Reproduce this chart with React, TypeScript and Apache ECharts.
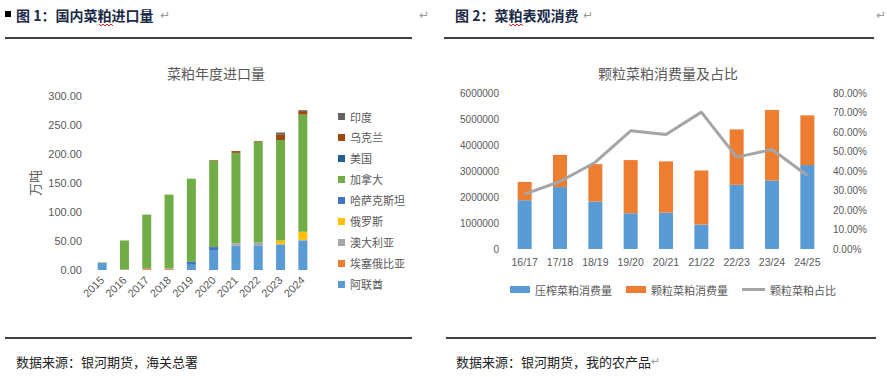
import React, { useEffect, useRef } from "react";
import * as echarts from "echarts";

// ---- Figure 1: annual rapeseed meal imports (万吨) ----
const years = ["2015", "2016", "2017", "2018", "2019", "2020", "2021", "2022", "2023", "2024"];
const uae = [12, 0, 0, 0, 9, 34.5, 42, 42.5, 44, 51];
const ethiopia = [0, 0, 1.5, 1.5, 0, 0, 0, 0, 0, 0];
const australia = [0, 1, 2, 1.5, 0, 0, 4, 5, 1, 1];
const russia = [0, 0, 0, 0, 0, 0, 0, 0, 6, 14];
const kazakhstan = [0, 0, 0, 0, 5, 5, 0, 0, 0, 0];
const canada = [1, 50, 92, 127, 143.5, 149, 156, 174, 173, 202];
const usa = [0, 0, 0, 0, 0, 0, 0, 0, 0, 0];
const ukraine = [0, 0, 0, 0, 0, 1, 3, 1, 10, 6];
const india = [0, 0, 0, 0, 0, 0, 0, 0, 3, 1.5];

// ---- Figure 2: rapeseed meal consumption ----
const seasons = ["16/17", "17/18", "18/19", "19/20", "20/21", "21/22", "22/23", "23/24", "24/25"];
const pressedMeal = [1877000, 2380000, 1825000, 1375000, 1400000, 940000, 2470000, 2635000, 3226000];
const pelletMeal = [703000, 1240000, 1440000, 2045000, 1970000, 2080000, 2130000, 2715000, 1914000];
const pelletShare = [0.281, 0.346, 0.445, 0.606, 0.587, 0.702, 0.471, 0.51, 0.377];

const leftSeries = [
  { name: "阿联酋", data: uae, color: "#5B9BD5" },
  { name: "埃塞俄比亚", data: ethiopia, color: "#ED7D31" },
  { name: "澳大利亚", data: australia, color: "#A5A5A5" },
  { name: "俄罗斯", data: russia, color: "#FFC000" },
  { name: "哈萨克斯坦", data: kazakhstan, color: "#4472C4" },
  { name: "加拿大", data: canada, color: "#70AD47" },
  { name: "美国", data: usa, color: "#255E91" },
  { name: "乌克兰", data: ukraine, color: "#9E480E" },
  { name: "印度", data: india, color: "#636363" },
];

const FONT = '"Liberation Sans", "Noto Sans CJK SC", sans-serif';
const CJK = '"Noto Sans CJK SC", sans-serif';
const AXIS_GREY = "#595959";
const HEAD = "#1B2A47";

function squiggle(x0: number, y: number, w: number) {
  const pts: number[][] = [];
  for (let i = 0; i <= Math.round(w / 2); i++) {
    pts.push([x0 + i * 2, y + (i % 2 === 0 ? 0 : 2)]);
  }
  return pts;
}

const legendText = { fontSize: 11, color: AXIS_GREY, fontFamily: CJK };

export default function App() {
  const ref = useRef<HTMLDivElement>(null);
  useEffect(() => {
    if (!ref.current) return;
    const chart = echarts.init(ref.current, undefined, { renderer: "svg" });
    const option: any = {
      animation: false,
      textStyle: { fontFamily: FONT },
      title: [
        {
          text: "菜粕年度进口量",
          left: 211,
          top: 61,
          textAlign: "center",
          textStyle: { fontSize: 14, fontWeight: "normal", color: AXIS_GREY, fontFamily: CJK },
        },
        {
          text: "颗粒菜粕消费量及占比",
          left: 663,
          top: 61,
          textAlign: "center",
          textStyle: { fontSize: 14, fontWeight: "normal", color: AXIS_GREY, fontFamily: CJK },
        },
      ],
      legend: [
        {
          orient: "vertical",
          left: 333,
          top: 106,
          itemWidth: 7,
          itemHeight: 7,
          itemGap: 10,
          icon: "rect",
          textStyle: legendText,
          data: leftSeries.map((s) => s.name).reverse(),
        },
        {
          left: 505,
          top: 279,
          itemWidth: 20,
          itemHeight: 7,
          icon: "rect",
          textStyle: legendText,
          data: ["压榨菜粕消费量"],
        },
        {
          left: 621,
          top: 279,
          itemWidth: 20,
          itemHeight: 7,
          icon: "rect",
          textStyle: legendText,
          data: ["颗粒菜粕消费量"],
        },
        {
          left: 737,
          top: 279,
          itemWidth: 23,
          itemHeight: 3,
          icon: "rect",
          textStyle: legendText,
          data: ["颗粒菜粕占比"],
        },
      ],
      grid: [
        { left: 91, width: 223, top: 96, height: 174 },
        { left: 507, width: 318, top: 93, height: 156 },
      ],
      xAxis: [
        {
          type: "category",
          gridIndex: 0,
          data: years,
          axisLine: { show: false },
          axisTick: { show: false },
          axisLabel: { rotate: 45, interval: 0, fontSize: 11, color: AXIS_GREY, margin: 8 },
        },
        {
          type: "category",
          gridIndex: 1,
          data: seasons,
          axisLine: { show: false },
          axisTick: { show: false },
          axisLabel: { interval: 0, fontSize: 10.5, color: AXIS_GREY, margin: 8 },
        },
      ],
      yAxis: [
        {
          type: "value",
          gridIndex: 0,
          min: 0,
          max: 300,
          interval: 50,
          name: "万吨",
          nameLocation: "middle",
          nameGap: 50,
          nameTextStyle: { fontSize: 13, color: AXIS_GREY, fontFamily: CJK },
          splitLine: { show: false },
          axisLine: { show: false },
          axisTick: { show: false },
          axisLabel: {
            fontSize: 11,
            color: AXIS_GREY,
            margin: 9,
            formatter: (v: number) => v.toFixed(2),
          },
        },
        {
          type: "value",
          gridIndex: 1,
          min: 0,
          max: 6000000,
          interval: 1000000,
          splitLine: { show: false },
          axisLine: { show: false },
          axisTick: { show: false },
          axisLabel: { fontSize: 10, color: AXIS_GREY, margin: 8, formatter: (v: number) => String(v) },
        },
        {
          type: "value",
          gridIndex: 1,
          position: "right",
          min: 0,
          max: 0.8,
          interval: 0.1,
          splitLine: { show: false },
          axisLine: { show: false },
          axisTick: { show: false },
          axisLabel: {
            fontSize: 10,
            color: AXIS_GREY,
            margin: 8,
            formatter: (v: number) => (v * 100).toFixed(2) + "%",
          },
        },
      ],
      series: [
        ...leftSeries.map((s) => ({
          name: s.name,
          type: "bar",
          stack: "imports",
          xAxisIndex: 0,
          yAxisIndex: 0,
          barWidth: 9,
          data: s.data,
          itemStyle: { color: s.color },
        })),
        {
          name: "压榨菜粕消费量",
          type: "bar",
          stack: "cons",
          xAxisIndex: 1,
          yAxisIndex: 1,
          barWidth: 14,
          data: pressedMeal,
          itemStyle: { color: "#5B9BD5" },
        },
        {
          name: "颗粒菜粕消费量",
          type: "bar",
          stack: "cons",
          xAxisIndex: 1,
          yAxisIndex: 1,
          barWidth: 14,
          data: pelletMeal,
          itemStyle: { color: "#ED7D31" },
        },
        {
          name: "颗粒菜粕占比",
          type: "line",
          xAxisIndex: 1,
          yAxisIndex: 2,
          data: pelletShare,
          symbol: "none",
          lineStyle: { color: "#A5A5A5", width: 3 },
          itemStyle: { color: "#A5A5A5" },
        },
      ],
      graphic: [
        { type: "rect", shape: { x: 5, y: 11, width: 6, height: 6 }, style: { fill: "#000" } },
        {
          type: "text",
          x: 16,
          y: 15,
          style: { text: "图 1：国内菜粕进口量", fill: HEAD, font: 'bold 14px "Noto Sans CJK SC"', verticalAlign: "middle" },
        },
        { type: "text", x: 160, y: 15, style: { text: "↵", fill: "#999", font: '12px "DejaVu Sans"', verticalAlign: "middle" } },
        { type: "text", x: 419, y: 15, style: { text: "↵", fill: "#999", font: '12px "DejaVu Sans"', verticalAlign: "middle" } },
        { type: "polyline", shape: { points: squiggle(99, 24, 14) }, style: { stroke: "#E02020", lineWidth: 1, fill: null } },
        {
          type: "text",
          x: 455,
          y: 15,
          style: { text: "图 2：菜粕表观消费", fill: HEAD, font: 'bold 14px "Noto Sans CJK SC"', verticalAlign: "middle" },
        },
        { type: "text", x: 583, y: 15, style: { text: "↵", fill: "#999", font: '12px "DejaVu Sans"', verticalAlign: "middle" } },
        { type: "text", x: 876, y: 15, style: { text: "↵", fill: "#999", font: '12px "DejaVu Sans"', verticalAlign: "middle" } },
        { type: "polyline", shape: { points: squiggle(509, 24, 14) }, style: { stroke: "#E02020", lineWidth: 1, fill: null } },
        { type: "line", shape: { x1: 5, y1: 38, x2: 412, y2: 38 }, style: { stroke: "#000", lineWidth: 1.3 } },
        { type: "line", shape: { x1: 444, y1: 38, x2: 874, y2: 38 }, style: { stroke: "#000", lineWidth: 1.3 } },
        { type: "line", shape: { x1: 5, y1: 338, x2: 412, y2: 338 }, style: { stroke: "#000", lineWidth: 1.3 } },
        { type: "line", shape: { x1: 446, y1: 338, x2: 876, y2: 338 }, style: { stroke: "#000", lineWidth: 1.3 } },
        {
          type: "text",
          x: 16,
          y: 361,
          style: { text: "数据来源：银河期货，海关总署", fill: "#222", font: '13px "Noto Sans CJK SC"', verticalAlign: "middle" },
        },
        {
          type: "text",
          x: 456,
          y: 361,
          style: { text: "数据来源：银河期货，我的农产品", fill: "#222", font: '13px "Noto Sans CJK SC"', verticalAlign: "middle" },
        },
        { type: "text", x: 651, y: 361, style: { text: "↵", fill: "#999", font: '11px "DejaVu Sans"', verticalAlign: "middle" } },
      ],
    };
    chart.setOption(option);
    return () => chart.dispose();
  }, []);
  return (
    <div
      ref={ref}
      style={{ position: "absolute", left: 0, top: 0, width: 887, height: 377, background: "#fff" }}
    />
  );
}
